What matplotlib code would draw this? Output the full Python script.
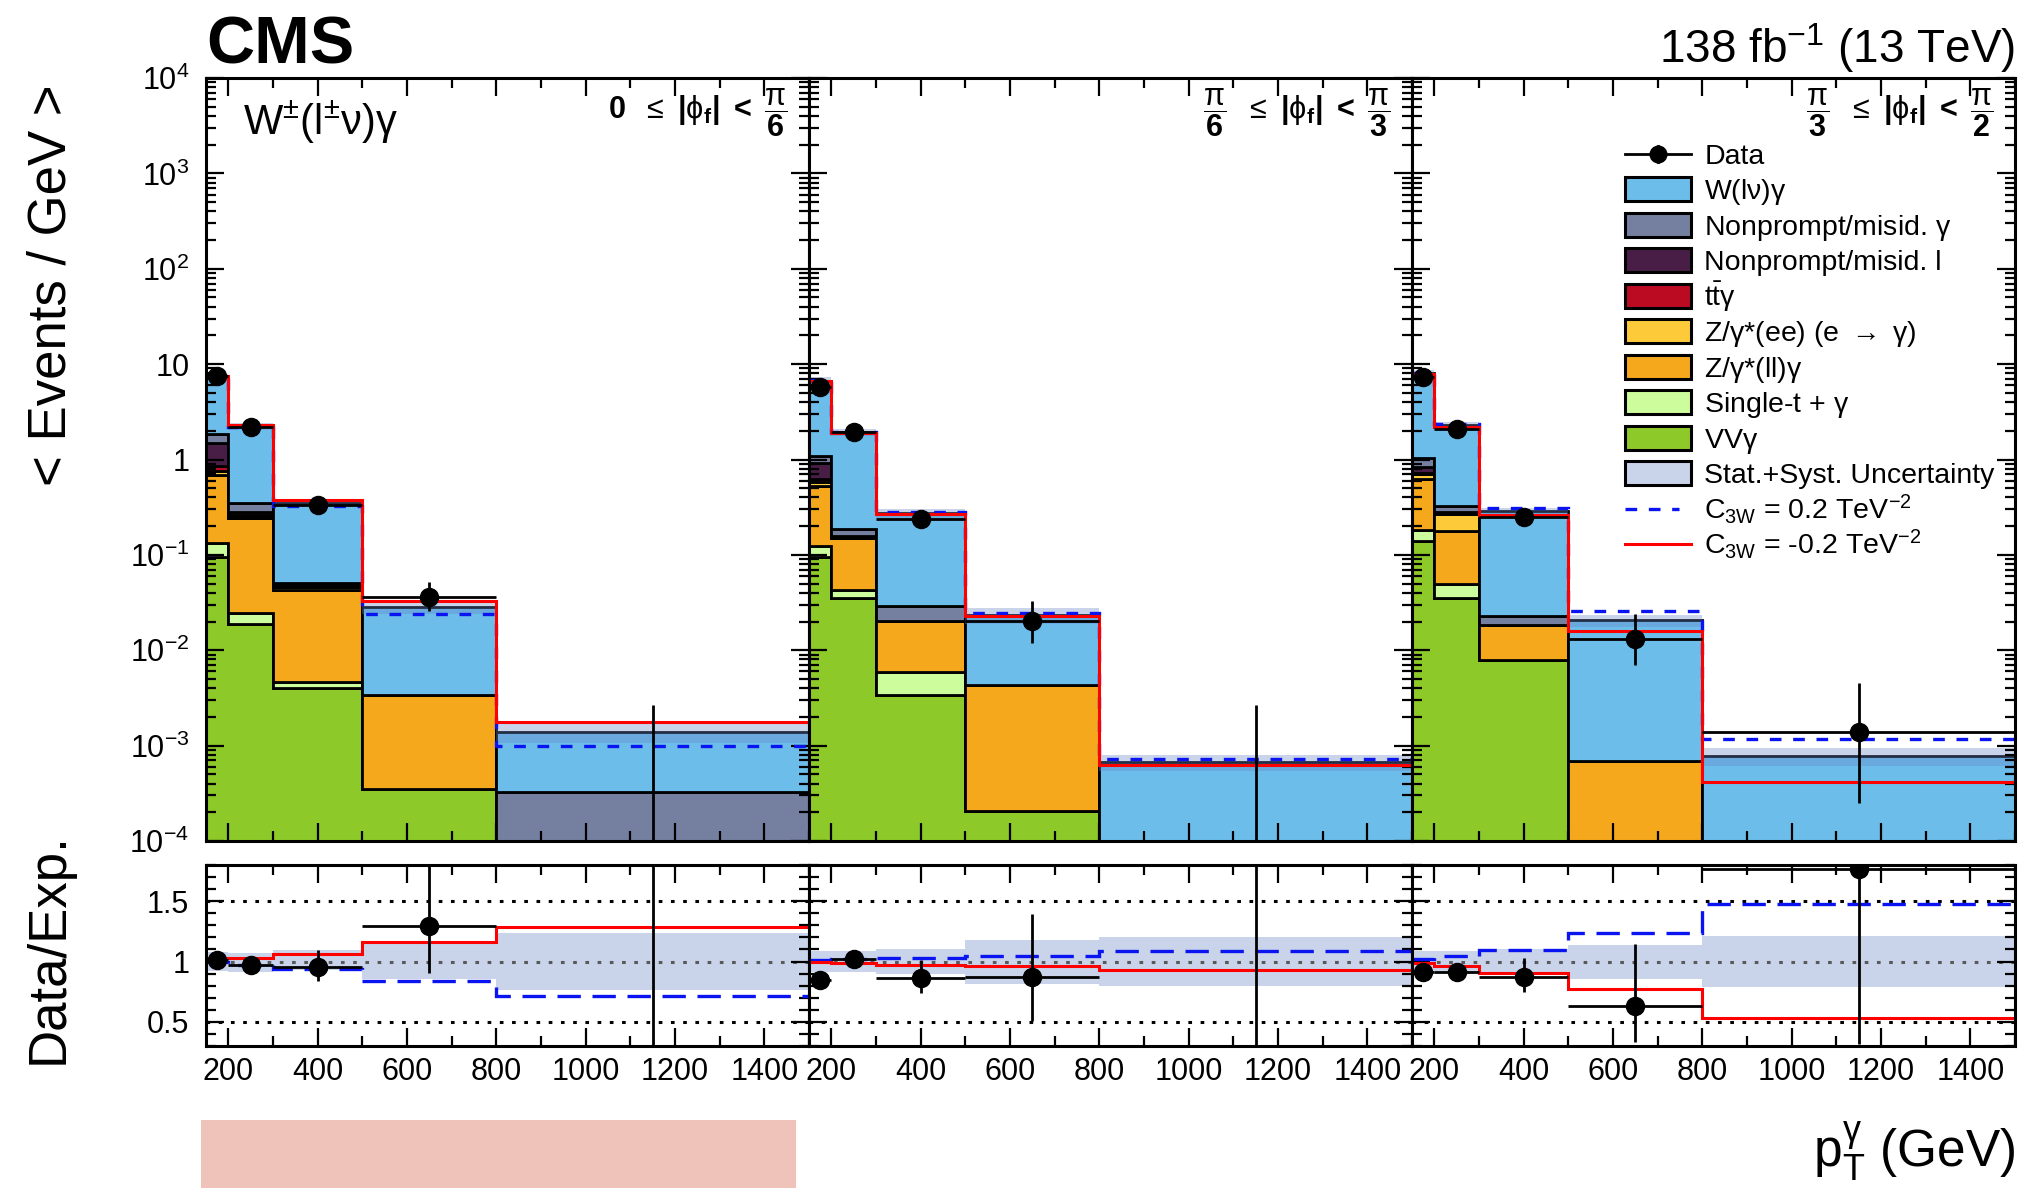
import numpy as np
import matplotlib
matplotlib.use("Agg")
import matplotlib.pyplot as plt
from matplotlib.patches import Rectangle
from matplotlib.lines import Line2D
from matplotlib.ticker import MultipleLocator, LogLocator, FixedLocator, FuncFormatter, NullFormatter

plt.rcParams['font.family'] = ['Liberation Sans', 'DejaVu Sans']
plt.rcParams['mathtext.fontset'] = 'custom'
plt.rcParams['mathtext.rm'] = 'Liberation Sans'
plt.rcParams['mathtext.it'] = 'Liberation Sans:italic'
plt.rcParams['mathtext.bf'] = 'Liberation Sans:bold'
plt.rcParams['mathtext.sf'] = 'Liberation Sans'
plt.rcParams['mathtext.default'] = 'regular'

# binning in photon pT (GeV)
pt_edges = [150, 200, 300, 500, 800, 1500]

phi_labels = [
    r"$\mathbf{0}\ \ \leq\ \mathbf{|}\phi_{\mathbf{f}}\mathbf{|\ <}\ \dfrac{\pi}{\mathbf{6}}$",
    r"$\dfrac{\pi}{\mathbf{6}}\ \ \leq\ \mathbf{|}\phi_{\mathbf{f}}\mathbf{|\ <}\ \dfrac{\pi}{\mathbf{3}}$",
    r"$\dfrac{\pi}{\mathbf{3}}\ \ \leq\ \mathbf{|}\phi_{\mathbf{f}}\mathbf{|\ <}\ \dfrac{\pi}{\mathbf{2}}$",
]

# background yields <Events/GeV>, one list per |phi_f| region
vvg = [[0.096, 0.019, 0.0040, 0.000355, 0],
       [0.096, 0.035, 0.0034, 0.000205, 0],
       [0.139, 0.035, 0.0079, 0, 0]]
single_t = [[0.038, 0.0053, 0.0006, 0, 0],
            [0.027, 0.0077, 0.00245, 0, 0],
            [0.045, 0.014, 0, 0, 0]]
zll_g = [[0.546, 0.2217, 0.038, 0.003045, 0],
         [0.407, 0.1083, 0.01465, 0.004095, 0],
         [0.436, 0.128, 0.0107, 0.00069, 0]]
zee = [[0.085, 0.009, 0.0034, 0, 0],
       [0.05, 0.002, 0, 0, 0],
       [0.08, 0.093, 0, 0, 0]]
ttg = [[0.095, 0.005, 0.001, 0, 0],
       [0.05, 0.002, 0, 0, 0],
       [0.02, 0.005, 0, 0, 0]]
np_lep = [[0.64, 0.02, 0.001, 0, 0],
          [0.29, 0.002, 0, 0, 0],
          [0.11, 0.005, 0, 0, 0]]
np_pho = [[0.36, 0.067, 0.003, 0, 0.000326],
          [0.16, 0.031, 0.0085, 0, 0],
          [0.21, 0.046, 0.0044, 0, 0]]
wg = [[5.49, 1.893, 0.298, 0.0248, 0.001064],
      [5.65, 1.732, 0.243, 0.0192, 0.00067],
      [6.94, 1.954, 0.262, 0.02011, 0.000787]]

proc_vals = [vvg, single_t, zll_g, zee, ttg, np_lep, np_pho, wg]
proc_colors = ['#8cc929', '#cdfc9c', '#f6a81c', '#fdcb3a', '#bb0b22', '#481e46', '#7580a0', '#6cbdea']
proc_labels = [r"VV$\gamma$", r"Single-t + $\gamma$", r"Z/$\gamma$*(ll)$\gamma$",
               r"Z/$\gamma$*(ee) (e $\rightarrow$ $\gamma$)", r"t$\bar{t}$$\gamma$",
               "Nonprompt/misid. l", r"Nonprompt/misid. $\gamma$", r"W(l$\nu$)$\gamma$"]

# relative stat+syst uncertainty (up / down)
unc_up = [[0.082, 0.071, 0.098, 0.147, 0.239],
          [0.09, 0.084, 0.106, 0.18, 0.2],
          [0.09, 0.09, 0.10, 0.139, 0.212]]
unc_dn = [[0.079, 0.087, 0.073, 0.141, 0.234],
          [0.087, 0.087, 0.106, 0.19, 0.2],
          [0.092, 0.092, 0.10, 0.147, 0.215]]

# data
data = [[7.47, 2.18, 0.334, 0.0364, 0],
        [5.71, 1.96, 0.236, 0.0204, 0],
        [7.29, 2.08, 0.249, 0.0132, 0.00139]]
data_err_lo = [[0.2, 0.08, 0.04, 0.0108, 0],
               [0.2, 0.12, 0.0345, 0.0084, 0],
               [0.22, 0.1, 0.037, 0.0062, 0.00114]]
data_err_hi = [[0.2, 0.08, 0.048, 0.0154, 0.00265],
               [0.2, 0.12, 0.0405, 0.0123, 0.00265],
               [0.22, 0.1, 0.044, 0.0106, 0.0032]]

# EFT predictions relative to SM expectation
c3w_pos_ratio = [[0.995, 0.975, 0.94, 0.842, 0.717],
                 [1.01, 1.02, 1.03, 1.043, 1.084],
                 [1.02, 1.043, 1.098, 1.234, 1.478]]
c3w_neg_ratio = [[1.03, 1.03, 1.065, 1.16, 1.288],
                 [0.995, 0.99, 0.975, 0.967, 0.93],
                 [0.984, 0.967, 0.908, 0.772, 0.533]]

edges = np.array(pt_edges, dtype=float)
centers = 0.5 * (edges[1:] + edges[:-1])
halfw = 0.5 * (edges[1:] - edges[:-1])

W, H = 2023, 1188
fig = plt.figure(figsize=(W / 100, H / 100), dpi=100)

left_px, right_px = 206, 2015
top_px, mid_px = 78, 841
rtop_px, rbot_px = 865, 1046
pw = (right_px - left_px) / 3

ax_top, ax_rat = [], []
for k in range(3):
    x0 = (left_px + k * pw) / W
    a = fig.add_axes([x0, 1 - mid_px / H, pw / W, (mid_px - top_px) / H])
    r = fig.add_axes([x0, 1 - rbot_px / H, pw / W, (rbot_px - rtop_px) / H])
    ax_top.append(a)
    ax_rat.append(r)


def log_label(v, pos):
    e = int(round(np.log10(v)))
    if e == 0:
        return '1'
    if e == 1:
        return '10'
    return r'$10^{%d}$' % e


band_color = '#6584c6'
for k in range(3):
    ax = ax_top[k]
    rax = ax_rat[k]

    # stacked backgrounds
    cum = np.zeros(len(centers))
    for vals, color in zip(proc_vals, proc_colors):
        y = np.array(vals[k], dtype=float)
        top = cum + y
        ax.stairs(np.maximum(top, 1e-9), edges, baseline=np.maximum(cum, 1e-9), fill=True,
                  facecolor=color, edgecolor='black', linewidth=2, zorder=1)
        cum = top
    total = cum

    up = np.array(unc_up[k])
    dn = np.array(unc_dn[k])
    ax.stairs(total * (1 + up), edges, baseline=total * (1 - dn), fill=True,
              facecolor=band_color, alpha=0.35, linewidth=0, zorder=1.5)

    # EFT curves
    ax.stairs(total * np.array(c3w_pos_ratio[k]), edges, baseline=None, color='#0a14f0',
              linewidth=2.4, linestyle=(0, (3.5, 3.5)), zorder=2)
    ax.stairs(total * np.array(c3w_neg_ratio[k]), edges, baseline=None, color='#ff0000',
              linewidth=2.2, zorder=2)

    d = np.array(data[k])
    lo = np.array(data_err_lo[k])
    hi = np.array(data_err_hi[k])
    ax.errorbar(centers, d, xerr=halfw, yerr=[lo, hi], fmt='o', color='black', ms=13,
                elinewidth=2, capsize=0, zorder=3)

    ax.set_yscale('log')
    ax.set_ylim(1e-4, 1e4)
    ax.set_xlim(edges[0], edges[-1])
    ax.yaxis.set_major_locator(LogLocator(base=10, numticks=20))
    ax.yaxis.set_minor_locator(LogLocator(base=10, subs=np.arange(2, 10), numticks=20))
    ax.yaxis.set_minor_formatter(NullFormatter())
    ax.yaxis.set_major_formatter(FuncFormatter(log_label))

    ax.text(0.965, 0.955, phi_labels[k], transform=ax.transAxes, ha='right', va='center',
            fontsize=22)

    # ratio panel
    rax.stairs(1 + up, edges, baseline=1 - dn, fill=True, facecolor='#c9d4eb', linewidth=0, zorder=1)
    for yl, col in [(0.5, 'black'), (1.0, '0.35'), (1.5, 'black')]:
        rax.axhline(yl, color=col, linewidth=2.2, linestyle=(0, (1.2, 2.8)), zorder=1.5)
    rax.stairs(np.array(c3w_pos_ratio[k]), edges, baseline=None, color='#0a14f0',
               linewidth=2.4, linestyle=(0, (7, 3.5)), zorder=2)
    rax.stairs(np.array(c3w_neg_ratio[k]), edges, baseline=None, color='#ff0000',
               linewidth=2.2, zorder=2)
    rax.errorbar(centers, d / total, xerr=halfw, yerr=[lo / total, hi / total], fmt='o',
                 color='black', ms=13, elinewidth=2, capsize=0, zorder=3)
    rax.set_xlim(edges[0], edges[-1])
    rax.set_ylim(0.3, 1.8)
    rax.yaxis.set_major_locator(FixedLocator([0.5, 1.0, 1.5]))
    rax.yaxis.set_minor_locator(MultipleLocator(0.1))
    rax.yaxis.set_major_formatter(FuncFormatter(lambda v, p: '%g' % v))

    for a in (ax, rax):
        a.xaxis.set_major_locator(MultipleLocator(200))
        a.xaxis.set_minor_locator(MultipleLocator(100))
        a.tick_params(which='both', direction='in', top=True, right=True, width=1.6,
                      labelsize=22)
        a.tick_params(which='major', length=13)
        a.tick_params(which='minor', length=7)
        a.tick_params(axis='y', pad=12)
        a.tick_params(axis='x', pad=8)
        for s in a.spines.values():
            s.set_linewidth(2.2)
    ax.tick_params(labelbottom=False)
    if k > 0:
        ax.tick_params(labelleft=False)
        rax.tick_params(labelleft=False)

ax_top[0].text(0.062, 0.925, r"W$^{\pm}$(l$^{\pm}\nu$)$\gamma$", transform=ax_top[0].transAxes,
               ha='left', va='baseline', fontsize=30)

# legend, built by hand in the right panel
lax = ax_top[2]
ah = mid_px - top_px
bx0, bx1, tx = 0.354, 0.462, 0.485
rows = [(154 + 35.45 * i) for i in range(12)]


def fy(py):
    return (mid_px - py) / ah


fs_leg = 20.5
yc = fy(rows[0])
lax.add_line(Line2D([bx0, bx1], [yc, yc], transform=lax.transAxes, color='black', lw=2, clip_on=False))
lax.add_line(Line2D([(bx0 + bx1) / 2] * 2, [yc - 0.011, yc + 0.011], transform=lax.transAxes,
                    color='black', lw=2, clip_on=False))
lax.add_line(Line2D([(bx0 + bx1) / 2], [yc], transform=lax.transAxes, marker='o', ms=12,
                    color='black', clip_on=False))
entries = [('Data', None)]
for lab, col in zip(proc_labels[::-1], proc_colors[::-1]):
    entries.append((lab, col))
entries.append(('Stat.+Syst. Uncertainty', '#c9d4eb'))
bh = 24 / ah
for i, (lab, col) in enumerate(entries):
    yc = fy(rows[i])
    if col is not None:
        lax.add_patch(Rectangle((bx0, yc - bh / 2), bx1 - bx0, bh, transform=lax.transAxes,
                                facecolor=col, edgecolor='black', lw=2.2, clip_on=False, zorder=4))
    lax.text(tx, yc - 10 / ah, lab, transform=lax.transAxes, ha='left', va='baseline',
             fontsize=fs_leg, zorder=4)
yc = fy(rows[10])
lax.add_line(Line2D([bx0, bx1 - 0.02], [yc, yc], transform=lax.transAxes, color='#0a14f0', lw=2.4,
                    linestyle=(0, (3.5, 3.5)), clip_on=False))
lax.text(tx, yc - 10 / ah, r"C$_{3W}$ = 0.2 TeV$^{-2}$", transform=lax.transAxes, ha='left',
         va='baseline', fontsize=fs_leg)
yc = fy(rows[11])
lax.add_line(Line2D([bx0, bx1], [yc, yc], transform=lax.transAxes, color='#ff0000', lw=2.2,
                    clip_on=False))
lax.text(tx, yc - 10 / ah, r"C$_{3W}$ = -0.2 TeV$^{-2}$", transform=lax.transAxes, ha='left',
         va='baseline', fontsize=fs_leg)

# figure texts
fig.text(206 / W, 1 - 63 / H, 'CMS', fontsize=48, fontweight='bold', ha='left', va='baseline')
fig.text(2015 / W, 1 - 63 / H, r"138 fb$^{-1}$ (13 TeV)", fontsize=33, ha='right', va='baseline')
fig.text(52 / W, 1 - 84 / H, '< Events / GeV >', fontsize=38, rotation=90, ha='center', va='top')
fig.text(49 / W, 1 - 948 / H, 'Data/Exp.', fontsize=38, rotation=90, ha='center', va='center')
fig.text(2015 / W, 1 - 1167 / H, r"p$_{T}^{\gamma}$ (GeV)", fontsize=37, ha='right', va='baseline')

fig.add_artist(Rectangle((201 / W, 0), (796 - 201) / W, (H - 1120) / H, transform=fig.transFigure,
                         facecolor='#efc3ba', edgecolor='none'))

fig.savefig('out.png', dpi=100)
